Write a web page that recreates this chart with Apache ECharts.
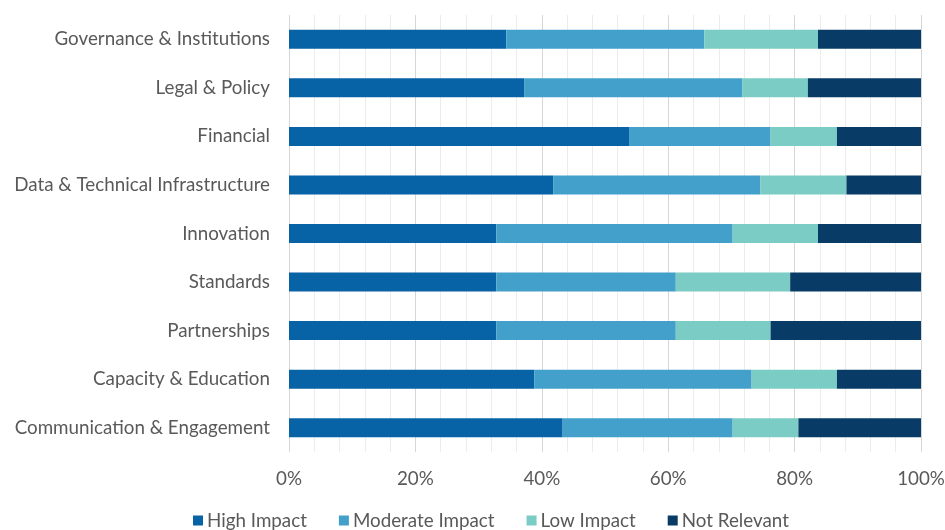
<!DOCTYPE html>
<html>
<head>
<meta charset="utf-8">
<script src="https://cdn.jsdelivr.net/npm/echarts@6/dist/echarts.min.js"></script>
<style>
  html, body { margin: 0; padding: 0; background: #fff; }
  #chart { width: 945px; height: 530px; }
</style>
</head>
<body>
<div id="chart"></div>
<script>
// Categories, top to bottom
const categories = [
  'Governance & Institutions',
  'Legal & Policy',
  'Financial',
  'Data & Technical Infrastructure',
  'Innovation',
  'Standards',
  'Partnerships',
  'Capacity & Education',
  'Communication & Engagement'
];

// Share of responses per category (%)
const highImpact     = [34.4, 37.2, 53.8, 41.8, 32.8, 32.8, 32.8, 38.8, 43.3];
const moderateImpact = [31.3, 34.5, 22.4, 32.8, 37.4, 28.4, 28.4, 34.4, 26.9];
const lowImpact      = [18.0, 10.4, 10.5, 13.6, 13.5, 18.1, 15.0, 13.5, 10.4];
const notRelevant    = [16.3, 17.9, 13.3, 11.8, 16.3, 20.7, 23.8, 13.3, 19.4];

const seriesNames = ['High Impact', 'Moderate Impact', 'Low Impact', 'Not Relevant'];
const seriesColors = ['#0863a6', '#43a0cb', '#7bccc4', '#083c66'];
const seriesData = [highImpact, moderateImpact, lowImpact, notRelevant];

const FONT = 'Lato';
const TEXT = '#595959';
const SIZE = 18.8;

const chart = echarts.init(document.getElementById('chart'), null, { renderer: 'canvas' });

chart.setOption({
  animation: false,
  textStyle: { fontFamily: FONT },
  grid: {
    left: 289, right: 24, top: 15, bottom: 78,
    containLabel: false,
    outerBoundsMode: 'none'
  },
  legend: {
    bottom: -5,
    left: 188,
    icon: 'rect',
    itemWidth: 10,
    itemHeight: 10,
    itemGap: 32,
    textStyle: { fontFamily: FONT, fontSize: SIZE, color: TEXT, padding: [0, 0, 0, -1] },
    data: seriesNames
  },
  xAxis: {
    type: 'value',
    min: 0,
    max: 100,
    interval: 20,
    axisLine: { show: false },
    axisTick: { show: false },
    axisLabel: {
      formatter: '{value}%',
      fontFamily: FONT,
      fontSize: SIZE,
      color: TEXT,
      margin: 17
    },
    splitLine: { show: true, lineStyle: { color: '#d6d6d6', width: 1 } },
    minorTick: { show: false, splitNumber: 5 },
    minorSplitLine: { show: true, lineStyle: { color: '#ececec', width: 1 } }
  },
  yAxis: {
    type: 'category',
    inverse: true,
    data: categories,
    axisLine: { show: false },
    axisTick: { show: false },
    axisLabel: { fontFamily: FONT, fontSize: SIZE, color: TEXT, margin: 19 }
  },
  series: seriesNames.map((name, i) => ({
    name: name,
    type: 'bar',
    stack: 'total',
    barWidth: 19,
    itemStyle: { color: seriesColors[i] },
    emphasis: { disabled: true },
    data: seriesData[i]
  }))
});
</script>
</body>
</html>
